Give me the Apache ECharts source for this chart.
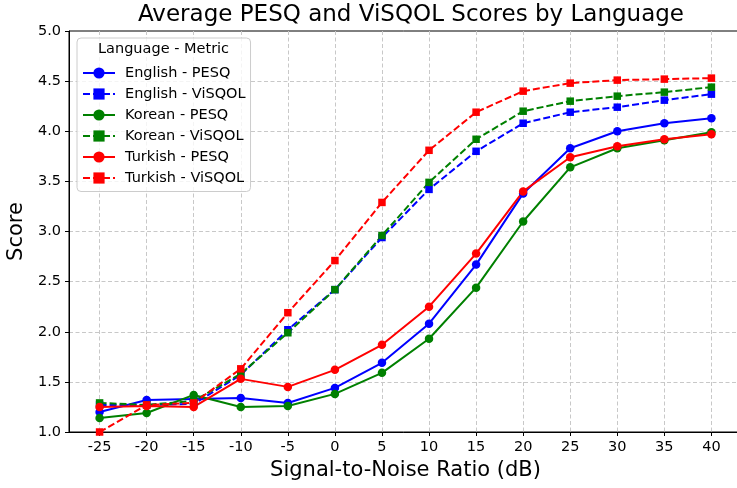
<!DOCTYPE html>
<html>
<head>
<meta charset="utf-8">
<script src="https://cdn.jsdelivr.net/npm/echarts@6/dist/echarts.min.js"></script>
<style>
html,body{margin:0;padding:0;background:#fff;}
#main{width:737px;height:488px;}
</style>
</head>
<body>
<div id="main"></div>
<script>
// signal-to-noise ratios (dB)
var snr = [-25, -20, -15, -10, -5, 0, 5, 10, 15, 20, 25, 30, 35, 40];

var enPesq   = [1.20, 1.32, 1.33, 1.34, 1.29, 1.44, 1.69, 2.08, 2.67, 3.38, 3.83, 4.00, 4.08, 4.13];
var enVisqol = [1.27, 1.27, 1.28, 1.57, 2.02, 2.42, 2.94, 3.42, 3.80, 4.08, 4.19, 4.24, 4.31, 4.37];
var koPesq   = [1.14, 1.19, 1.37, 1.25, 1.26, 1.38, 1.59, 1.93, 2.44, 3.10, 3.64, 3.83, 3.91, 3.99];
var koVisqol = [1.29, 1.27, 1.31, 1.58, 1.99, 2.42, 2.96, 3.49, 3.92, 4.20, 4.30, 4.35, 4.39, 4.44];
var trPesq   = [1.25, 1.26, 1.25, 1.53, 1.45, 1.62, 1.87, 2.25, 2.78, 3.40, 3.74, 3.85, 3.92, 3.97];
var trVisqol = [1.00, 1.27, 1.29, 1.63, 2.19, 2.71, 3.29, 3.81, 4.19, 4.40, 4.48, 4.51, 4.52, 4.53];

var FONT = 'DejaVu Sans';

function mkSeries(name, vals, color, dashed){
    return {
        name: name,
        type: 'line',
        data: snr.map(function(x, i){ return [x, vals[i]]; }),
        symbol: dashed ? 'rect' : 'circle',
        symbolSize: dashed ? 7.5 : 8.5,
        showAllSymbol: true,
        itemStyle: {color: color},
        lineStyle: {color: color, width: 2, type: dashed ? [7, 3] : 'solid'},
        emphasis: {disabled: true},
        animation: false
    };
}

var myChart = echarts.init(document.getElementById('main'));
var option = {
    backgroundColor: '#fff',
    animation: false,
    textStyle: {fontFamily: FONT},
    title: {
        text: 'Average PESQ and ViSQOL Scores by Language',
        left: 406, top: -1, textAlign: 'center',
        textStyle: {fontFamily: FONT, fontSize: 23, fontWeight: 'normal', color: '#000'}
    },
    grid: {
        left: 69, top: 31, right: -5, bottom: 56,
        containLabel: false, outerBoundsMode: 'none',
        show: true, borderColor: '#000', borderWidth: 1
    },
    legend: {
        orient: 'vertical',
        left: 77, top: 38,
        padding: [27.5, 5, 6, 5],
        itemWidth: 32, itemHeight: 14, itemGap: 6,
        backgroundColor: 'rgba(255,255,255,0.8)',
        borderColor: '#cccccc', borderWidth: 1, borderRadius: 4,
        textStyle: {fontFamily: FONT, fontSize: 14.5, color: '#000', padding: [0, 0, 0, 5]},
        data: ['English - PESQ', 'English - ViSQOL', 'Korean - PESQ', 'Korean - ViSQOL', 'Turkish - PESQ', 'Turkish - ViSQOL']
    },
    graphic: [{
        type: 'text', left: 98, top: 42, z: 100,
        style: {text: 'Language - Metric', font: '14.5px "DejaVu Sans"', fill: '#000'}
    }],
    xAxis: {
        type: 'value',
        min: -28.25, max: 43.25,
        name: 'Signal-to-Noise Ratio (dB)',
        nameLocation: 'middle', nameGap: 25,
        nameTextStyle: {fontFamily: FONT, fontSize: 21, color: '#000'},
        axisLine: {show: true, onZero: false, lineStyle: {color: '#000', width: 1}},
        axisTick: {show: true, length: 4, customValues: snr, lineStyle: {color: '#000'}},
        axisLabel: {customValues: snr, fontFamily: FONT, fontSize: 14.5, color: '#000', margin: 8},
        splitLine: {show: true, lineStyle: {color: '#c8c8c8', type: [4, 2.5], width: 1}}
    },
    yAxis: {
        type: 'value',
        min: 1.0, max: 5.0, interval: 0.5,
        name: 'Score',
        nameLocation: 'middle', nameGap: 37,
        nameTextStyle: {fontFamily: FONT, fontSize: 21, color: '#000'},
        axisLine: {show: true, onZero: false, lineStyle: {color: '#000', width: 1}},
        axisTick: {show: true, length: 4, lineStyle: {color: '#000'}},
        axisLabel: {fontFamily: FONT, fontSize: 14.5, color: '#000', margin: 8,
            formatter: function(v){ return v.toFixed(1); }},
        splitLine: {show: true, showMinLine: false, showMaxLine: false,
            lineStyle: {color: '#c8c8c8', type: [4, 2.5], width: 1}}
    },
    series: [
        mkSeries('English - PESQ', enPesq, '#0000ff', false),
        mkSeries('English - ViSQOL', enVisqol, '#0000ff', true),
        mkSeries('Korean - PESQ', koPesq, '#008000', false),
        mkSeries('Korean - ViSQOL', koVisqol, '#008000', true),
        mkSeries('Turkish - PESQ', trPesq, '#ff0000', false),
        mkSeries('Turkish - ViSQOL', trVisqol, '#ff0000', true)
    ]
};
myChart.setOption(option);
</script>
</body>
</html>
